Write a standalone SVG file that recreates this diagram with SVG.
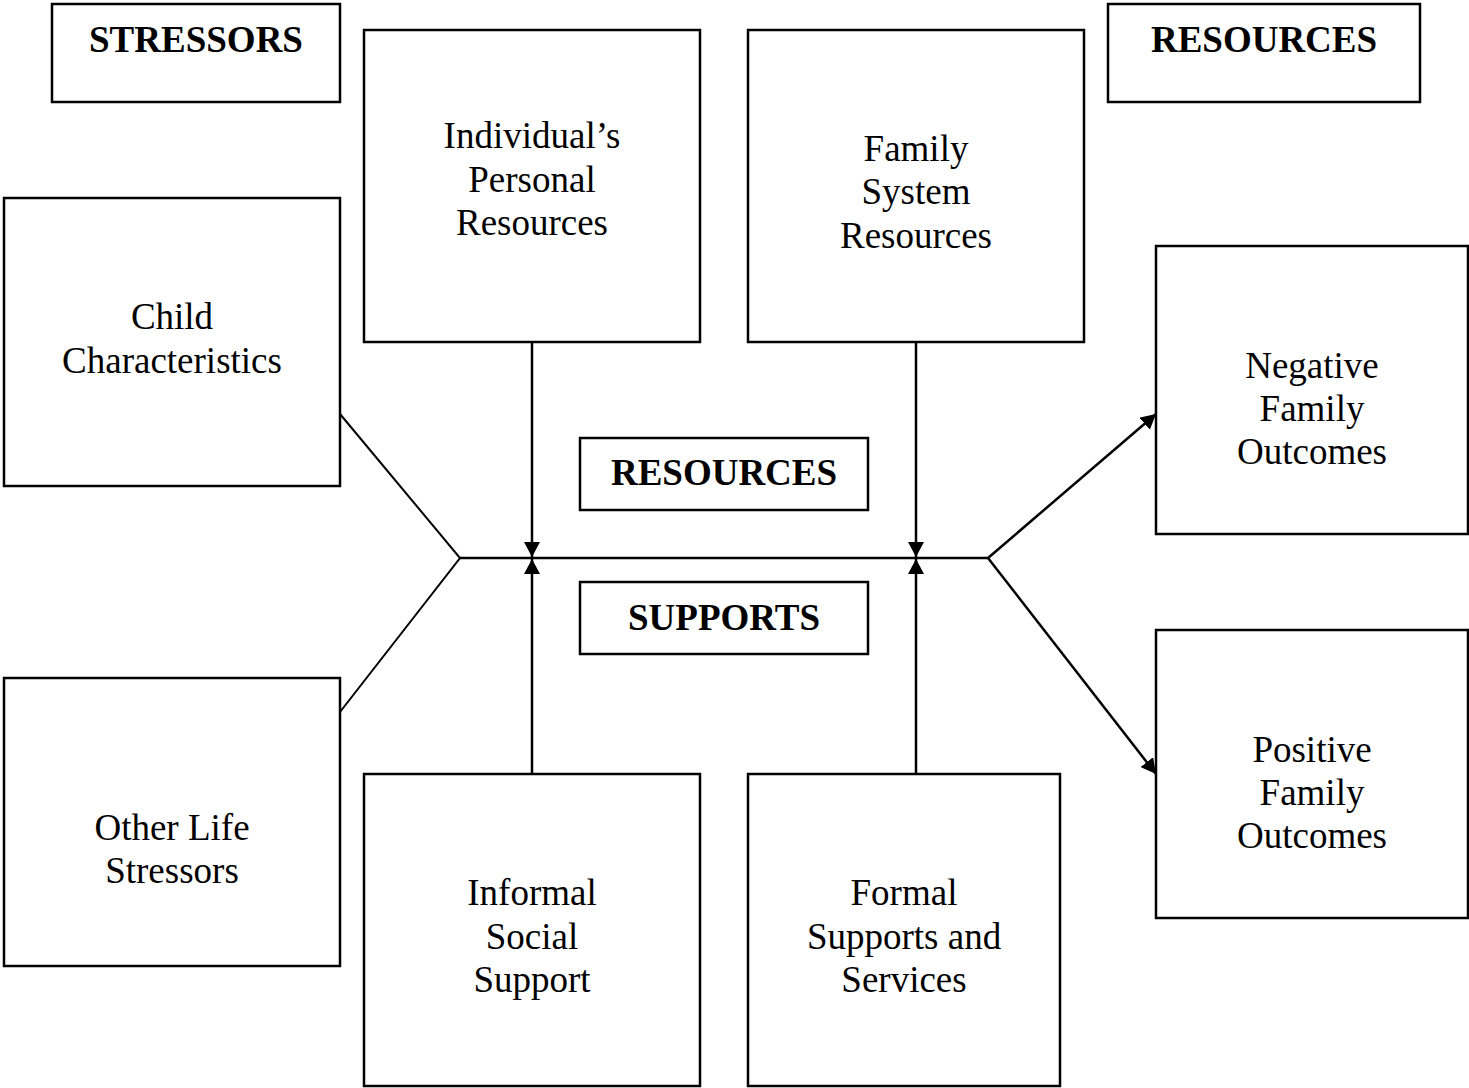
<svg xmlns="http://www.w3.org/2000/svg" width="1469" height="1088" viewBox="0 0 1469 1088">
<style>
.box{fill:#fff;stroke:#000;stroke-width:2.5}
.t{font-family:"Liberation Serif","Times New Roman",serif;font-size:37px;text-anchor:middle;fill:#000}
.b{font-weight:bold;font-size:37px}
.c{stroke:#000;stroke-width:2.5;fill:none}
.d{stroke:#000;stroke-width:2;fill:none}
</style>
<defs>
<marker id="ah" viewBox="0 0 15 16" refX="15" refY="8" markerWidth="15" markerHeight="16" markerUnits="userSpaceOnUse" orient="auto">
<path d="M0,0 L15,8 L0,16 Z" fill="#000"/>
</marker>
</defs>
<rect width="1469" height="1088" fill="#fff"/>
<g id="connectors">
<path class="d" d="M340,414 L460,558 L340,712"/>
<line class="c" x1="460" y1="558" x2="988" y2="558"/>
<line class="c" x1="532" y1="342" x2="532" y2="557" marker-end="url(#ah)"/>
<line class="c" x1="532" y1="774" x2="532" y2="559" marker-end="url(#ah)"/>
<line class="c" x1="916" y1="342" x2="916" y2="557" marker-end="url(#ah)"/>
<line class="c" x1="916" y1="774" x2="916" y2="559" marker-end="url(#ah)"/>
<line class="c" x1="988" y1="558" x2="1156" y2="414" marker-end="url(#ah)"/>
<line class="c" x1="988" y1="558" x2="1156" y2="774" marker-end="url(#ah)"/>
</g>
<g id="stressors-label"><rect class="box" x="52" y="4" width="288" height="98"/><text class="t b" x="196" y="52">STRESSORS</text></g>
<g id="resources-label-top"><rect class="box" x="1108" y="4" width="312" height="98"/><text class="t b" x="1264" y="52">RESOURCES</text></g>
<g id="individual"><rect class="box" x="364" y="30" width="336" height="312"/><text class="t" x="532" y="148">Individual’s</text><text class="t" x="532" y="192">Personal</text><text class="t" x="532" y="235">Resources</text></g>
<g id="family-system"><rect class="box" x="748" y="30" width="336" height="312"/><text class="t" x="916" y="161">Family</text><text class="t" x="916" y="204">System</text><text class="t" x="916" y="248">Resources</text></g>
<g id="child"><rect class="box" x="4" y="198" width="336" height="288"/><text class="t" x="172" y="329">Child</text><text class="t" x="172" y="373">Characteristics</text></g>
<g id="other-life"><rect class="box" x="4" y="678" width="336" height="288"/><text class="t" x="172" y="840">Other Life</text><text class="t" x="172" y="883">Stressors</text></g>
<g id="resources-mid"><rect class="box" x="580" y="438" width="288" height="72"/><text class="t b" x="724" y="485">RESOURCES</text></g>
<g id="supports-mid"><rect class="box" x="580" y="582" width="288" height="72"/><text class="t b" x="724" y="630">SUPPORTS</text></g>
<g id="informal"><rect class="box" x="364" y="774" width="336" height="312"/><text class="t" x="532" y="905">Informal</text><text class="t" x="532" y="949">Social</text><text class="t" x="532" y="992">Support</text></g>
<g id="formal"><rect class="box" x="748" y="774" width="312" height="312"/><text class="t" x="904" y="905">Formal</text><text class="t" x="904" y="949">Supports and</text><text class="t" x="904" y="992">Services</text></g>
<g id="negative"><rect class="box" x="1156" y="246" width="312" height="288"/><text class="t" x="1312" y="378">Negative</text><text class="t" x="1312" y="421">Family</text><text class="t" x="1312" y="464">Outcomes</text></g>
<g id="positive"><rect class="box" x="1156" y="630" width="312" height="288"/><text class="t" x="1312" y="762">Positive</text><text class="t" x="1312" y="805">Family</text><text class="t" x="1312" y="848">Outcomes</text></g>
</svg>
